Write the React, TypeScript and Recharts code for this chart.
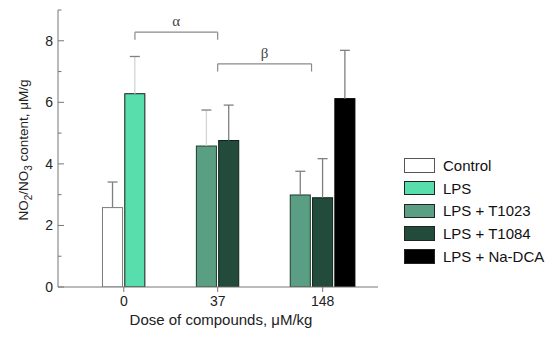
import React from 'react';
import { BarChart, Bar, XAxis, YAxis, ReferenceLine, Legend, Label } from 'recharts';

// ---- data ----
const doses = ['0', '37', '148'];
const seriesNames = ['Control', 'LPS', 'LPS + T1023', 'LPS + T1084', 'LPS + Na-DCA'];
const controlMean: (number | null)[] = [2.58, null, null];
const controlErr: (number | null)[] = [0.83, null, null];
const lpsMean: (number | null)[] = [6.28, null, null];
const lpsErr: (number | null)[] = [1.21, null, null];
const t1023Mean: (number | null)[] = [null, 4.58, 2.99];
const t1023Err: (number | null)[] = [null, 1.17, 0.77];
const t1084Mean: (number | null)[] = [null, 4.76, 2.9];
const t1084Err: (number | null)[] = [null, 1.15, 1.27];
const naDcaMean: (number | null)[] = [null, null, 6.12];
const naDcaErr: (number | null)[] = [null, null, 1.57];
const yTicks = [0, 1, 2, 3, 4, 5, 6, 7, 8, 9];
const yLabelTicks = [0, 2, 4, 6, 8];
// significance brackets: label, leg bottom, bar top
const bracketLabels = ['α', 'β'];
const bracketLow = [8.03, 7.0];
const bracketHigh = [8.28, 7.25];

// ---- styles / layout ----
const FONT = '"Liberation Sans", Arial, sans-serif';
const fills = ['#ffffff', '#58DEAC', '#5A9F83', '#234B3C', '#000000'];
const strokes = ['#7a7a7a', '#1a1a1a', '#1f3a2e', '#0f2219', '#000000'];
const lightErrLines = ['LPS@0', 'LPS + T1023@37'];
const X_SPAN = 14.35; // in bar widths
const GROUP_POS = [2.95, 7.16, 11.87];
const BAR_SIZE = 22.3;

const means = [controlMean, lpsMean, t1023Mean, t1084Mean, naDcaMean];
const errs = [controlErr, lpsErr, t1023Err, t1084Err, naDcaErr];

type Row = { x: number; value: number; err: number; s: number; dose: string };
const rows: Row[] = [];
doses.forEach((d, di) => {
  const present = means.map((m, si) => (m[di] != null ? si : -1)).filter((v) => v >= 0);
  present.forEach((si, k) => {
    rows.push({
      x: GROUP_POS[di] + (k - (present.length - 1) / 2),
      value: means[si][di] as number,
      err: errs[si][di] as number,
      s: si,
      dose: d,
    });
  });
});

const barCenter = (series: number, dose: number) =>
  rows.find((r) => r.s === series && r.dose === doses[dose])!.x;
const bracketX: [number, number][] = [
  [barCenter(1, 0), GROUP_POS[1]],
  [GROUP_POS[1], GROUP_POS[2] - 0.5],
];

const BarShape = (props: any) => {
  const { x, y, width, height, payload } = props;
  const s = payload.s;
  const ppu = height / payload.value;
  const top = y - payload.err * ppu;
  const cx = x + width / 2;
  const light = lightErrLines.includes(`${seriesNames[s]}@${payload.dose}`);
  return (
    <g>
      <rect x={x} y={y} width={width} height={height} fill={fills[s]} stroke={strokes[s]} strokeWidth={1} />
      <line x1={cx} x2={cx} y1={y} y2={top} stroke={light ? '#d4d4d4' : '#7f7f7f'} strokeWidth={1.3} />
      <line x1={cx - 5} x2={cx + 5} y1={top} y2={top} stroke="#808080" strokeWidth={1.3} />
    </g>
  );
};

const YTick = (props: any) => {
  const { x, y, payload } = props;
  const v = payload.value;
  const major = yLabelTicks.includes(v);
  const ax = x + 5;
  return (
    <g>
      <line x1={ax} x2={ax + (major ? 6 : 3.5)} y1={y} y2={y} stroke="#777" strokeWidth={1} />
      {major && (
        <text x={x} y={y} dy="0.36em" textAnchor="end" fontSize={14} fill="#222" fontFamily={FONT}>
          {v}
        </text>
      )}
    </g>
  );
};

const LegendContent = () => (
  <div style={{ fontFamily: FONT }}>
    {seriesNames.map((n, i) => (
      <div key={n} style={{ display: 'flex', alignItems: 'center', height: 22.75 }}>
        <div
          style={{
            width: 31,
            height: 14.5,
            boxSizing: 'border-box',
            border: `1px solid ${i === 0 ? '#555' : '#222'}`,
            background: fills[i],
          }}
        />
        <span style={{ marginLeft: 8, fontSize: 15, color: '#111', whiteSpace: 'nowrap' }}>{n}</span>
      </div>
    ))}
  </div>
);

export default function App() {
  return (
    <div style={{ position: 'absolute', left: 0, top: 0 }}>
      <BarChart
        width={550}
        height={341}
        data={rows}
        margin={{ top: 10, right: 172, left: 0, bottom: 24 }}
        style={{ fontFamily: FONT }}
      >
        <XAxis
          type="number"
          dataKey="x"
          domain={[0, X_SPAN]}
          ticks={GROUP_POS}
          interval={0}
          tickFormatter={(v: number) => doses[GROUP_POS.indexOf(v)] ?? ''}
          stroke="#777"
          tick={{ fill: '#222', fontSize: 14, fontFamily: FONT }}
          tickSize={5}
          tickMargin={4}
          height={30}
          allowDataOverflow
        >
          <Label
            content={() => (
              <text x={221} y={325} textAnchor="middle" fontSize={15} fill="#222" fontFamily={FONT}>
                Dose of compounds, μM/kg
              </text>
            )}
          />
        </XAxis>
        <YAxis
          type="number"
          domain={[0, 9]}
          ticks={yTicks}
          interval={0}
          width={58}
          stroke="#777"
          tickLine={false}
          tickSize={0}
          tickMargin={5}
          tick={<YTick />}
          allowDataOverflow
        >
          <Label
            content={() => (
              <text
                x={28}
                y={150}
                transform="rotate(-90 28 150)"
                textAnchor="middle"
                fontSize={13.5}
                fill="#222"
                fontFamily={FONT}
              >
                NO<tspan dy={4} fontSize={10}>2</tspan>
                <tspan dy={-4}>/NO</tspan>
                <tspan dy={4} fontSize={10}>3</tspan>
                <tspan dy={-4}> content, μM/g</tspan>
              </text>
            )}
          />
        </YAxis>
        <Bar dataKey="value" barSize={BAR_SIZE} shape={<BarShape />} isAnimationActive={false} />
        {bracketX.map(([x1, x2], i) => (
          <React.Fragment key={i}>
            <ReferenceLine
              segment={[
                { x: x1, y: bracketHigh[i] },
                { x: x2, y: bracketHigh[i] },
              ]}
              stroke="#8a8a8a"
              strokeWidth={1.2}
              label={{
                value: bracketLabels[i],
                position: 'top',
                offset: 6,
                fontSize: 15,
                fill: '#444',
                fontFamily: '"Liberation Serif", "Times New Roman", serif',
              }}
            />
            <ReferenceLine
              segment={[
                { x: x1, y: bracketHigh[i] },
                { x: x1, y: bracketLow[i] },
              ]}
              stroke="#8a8a8a"
              strokeWidth={1.2}
            />
            <ReferenceLine
              segment={[
                { x: x2, y: bracketHigh[i] },
                { x: x2, y: bracketLow[i] },
              ]}
              stroke="#8a8a8a"
              strokeWidth={1.2}
            />
          </React.Fragment>
        ))}
        <Legend
          layout="horizontal"
          align="center"
          verticalAlign="middle"
          wrapperStyle={{ left: 404, top: 154, width: 146, height: 116 }}
          content={<LegendContent />}
        />
      </BarChart>
    </div>
  );
}
